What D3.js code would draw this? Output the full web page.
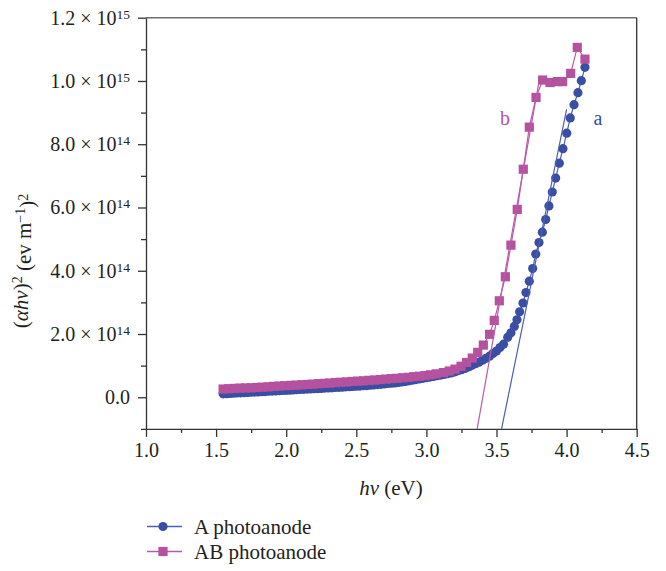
<!DOCTYPE html>
<html>
<head>
<meta charset="utf-8">
<script src="https://cdn.jsdelivr.net/npm/d3@7"></script>
<style>
body { margin: 0; background: #fff; }
svg text { font-family: "Liberation Serif", "DejaVu Serif", serif; fill: #231f20; }
</style>
</head>
<body>
<div id="chartDiv"></div>
<script>
// A photoanode: hv (eV) and (ahv)^2 in units of 1e14
const eA = [1.550,1.575,1.600,1.625,1.650,1.675,1.700,1.725,1.750,1.775,1.800,1.825,1.850,1.875,1.900,1.925,1.950,1.975,
    2.000,2.025,2.050,2.075,2.100,2.125,2.150,2.175,2.200,2.225,2.250,2.275,2.300,2.325,2.350,2.375,2.400,2.425,2.450,2.475,
    2.500,2.525,2.550,2.575,2.600,2.625,2.650,2.675,2.700,2.725,2.750,2.775,2.800,2.825,2.850,2.875,2.900,2.925,2.950,2.975,
    3.000,3.025,3.050,3.075,3.100,3.125,3.150,3.175,3.200,3.225,3.250,3.275,3.300,3.325,3.350,3.375,3.400,3.425,3.450,3.475,
    3.500,3.525,3.550,3.580,3.603,3.627,3.646,3.665,3.689,3.710,3.734,3.758,3.780,3.803,3.827,3.851,3.874,3.898,3.922,3.948,
    3.974,4.001,4.026,4.053,4.081,4.105,4.131];
const vA = [0.110,0.115,0.120,0.130,0.135,0.140,0.145,0.150,0.160,0.165,0.170,0.175,0.180,0.190,0.195,0.200,0.210,0.215,
    0.220,0.225,0.230,0.240,0.245,0.250,0.260,0.265,0.270,0.275,0.280,0.290,0.295,0.300,0.310,0.315,0.320,0.330,0.335,0.340,
    0.350,0.355,0.365,0.370,0.380,0.390,0.400,0.410,0.420,0.435,0.445,0.455,0.470,0.485,0.500,0.520,0.540,0.560,0.580,0.600,
    0.620,0.640,0.660,0.680,0.700,0.720,0.745,0.770,0.800,0.840,0.870,0.910,0.960,1.010,1.060,1.110,1.170,1.230,1.300,1.380,
    1.460,1.570,1.680,1.900,2.040,2.240,2.450,2.700,2.980,3.310,3.670,4.070,4.530,4.890,5.220,5.620,6.050,6.490,6.930,7.400,
    7.860,8.350,8.830,9.250,9.630,10.010,10.430];

// AB photoanode
const eB = [1.55,1.59,1.63,1.67,1.71,1.75,1.79,1.83,1.87,1.91,1.95,1.99,2.03,2.07,2.11,2.15,2.19,2.23,2.27,2.31,2.35,2.39,
    2.43,2.47,2.51,2.55,2.59,2.63,2.67,2.71,2.75,2.79,2.83,2.87,2.91,2.95,2.99,3.03,3.07,
    3.121,3.163,3.204,3.247,3.287,3.327,3.366,3.406,3.451,3.484,3.520,3.563,3.603,3.648,3.691,3.734,3.782,3.829,3.882,3.934,
    3.972,4.029,4.076,4.131];
const vB = [0.260,0.270,0.280,0.290,0.295,0.300,0.310,0.320,0.330,0.345,0.355,0.365,0.375,0.385,0.395,0.405,0.415,0.430,
    0.440,0.450,0.465,0.475,0.485,0.500,0.510,0.520,0.535,0.545,0.560,0.575,0.590,0.600,0.615,0.630,0.650,0.665,0.685,0.710,0.740,
    0.78,0.83,0.89,0.98,1.10,1.24,1.42,1.65,1.99,2.43,3.05,3.81,4.81,5.94,7.21,8.54,9.48,10.03,9.95,9.98,
    9.98,10.24,11.06,10.69];

// linear fits (end points)
const fitAx = [3.536, 4.000], fitAy = [-1.0, 9.1];
const fitBx = [3.362, 3.800], fitBy = [-1.0, 9.9];

const xMajor = [1.0, 1.5, 2.0, 2.5, 3.0, 3.5, 4.0, 4.5];
const xMinor = [1.25, 1.75, 2.25, 2.75, 3.25, 3.75, 4.25];
const yMajor = [0, 2, 4, 6, 8, 10, 12];
const yMinor = [-1, 1, 3, 5, 7, 9, 11];
const yLabels = ['0.0', '2.0', '4.0', '6.0', '8.0', '1.0', '1.2'];
const yExp = ['', '14', '14', '14', '14', '15', '15'];

const blue = '#3a4ea4', pink = '#b4529f';
const blueLine = '#4a5fb6', pinkLine = '#bd5aa8';

let svgObj = d3.select('#chartDiv').append('svg').attr('width', 666).attr('height', 571);

const x = d3.scaleLinear().domain([1.0, 4.5]).range([146, 636.7]);
const y = d3.scaleLinear().domain([-1, 12]).range([428.9, 17.7]);

// frame top + right
svgObj.append('line').attr('x1', x(1.0)).attr('x2', x(4.5)).attr('y1', y(12)).attr('y2', y(12))
    .attr('stroke', '#6d6e70').attr('stroke-width', 1.4);
svgObj.append('line').attr('x1', x(4.5)).attr('x2', x(4.5)).attr('y1', y(12)).attr('y2', y(-1))
    .attr('stroke', '#333').attr('stroke-width', 1.3);

// axes
let gx = svgObj.append('g').attr('transform', `translate(0,${y(-1)})`)
    .call(d3.axisBottom(x).tickValues(xMajor).tickSize(8).tickSizeOuter(0).tickPadding(6).tickFormat(d3.format('.1f')));
svgObj.append('g').attr('transform', `translate(0,${y(-1)})`)
    .call(d3.axisBottom(x).tickValues(xMinor).tickSize(4).tickFormat(''))
    .select('.domain').remove();

let gy = svgObj.append('g').attr('transform', `translate(${x(1.0)},0)`)
    .call(d3.axisLeft(y).tickValues(yMajor).tickSize(8).tickSizeOuter(0).tickPadding(8).tickFormat(''));
svgObj.append('g').attr('transform', `translate(${x(1.0)},0)`)
    .call(d3.axisLeft(y).tickValues(yMinor).tickSize(5).tickFormat(''))
    .select('.domain').remove();

svgObj.selectAll('.domain, .tick line').attr('stroke', '#333').attr('stroke-width', 1.3);
gx.selectAll('text').style('font-size', '20px').attr('fill', '#231f20');

// y tick labels with exponents
gy.selectAll('.tick text').each(function(d, i) {
    let t = d3.select(this).style('font-size', '20px').attr('fill', '#231f20');
    t.text(null);
    if (yExp[i] === '') {
        t.append('tspan').text(yLabels[i]);
    } else {
        t.append('tspan').text(yLabels[i] + ' \u00d7 10');
        t.append('tspan').attr('dy', '-0.45em').style('font-size', '13.5px').text(yExp[i]);
    }
});

// axis titles
let xt = svgObj.append('text').attr('x', 391).attr('y', 495).attr('text-anchor', 'middle').style('font-size', '21px');
xt.append('tspan').style('font-style', 'italic').text('h\u03bd');
xt.append('tspan').text(' (eV)');

let yt = svgObj.append('text').attr('transform', 'translate(28,261) rotate(-90)')
    .attr('text-anchor', 'middle').style('font-size', '21px');
yt.append('tspan').text('(');
yt.append('tspan').style('font-style', 'italic').text('\u03b1h\u03bd');
yt.append('tspan').text(')');
yt.append('tspan').attr('dy', '-0.45em').style('font-size', '14px').text('2');
yt.append('tspan').attr('dy', '0.45em').text(' (ev m');
yt.append('tspan').attr('dy', '-0.45em').style('font-size', '14px').text('\u22121');
yt.append('tspan').attr('dy', '0.45em').text(')');
yt.append('tspan').attr('dy', '-0.45em').style('font-size', '14px').text('2');

// series
const dataA = eA.map((e, i) => [e, vA[i]]);
const dataB = eB.map((e, i) => [e, vB[i]]);
const line = d3.line().x(d => x(d[0])).y(d => y(d[1]));

svgObj.append('path').datum(dataA).attr('d', line).attr('fill', 'none').attr('stroke', blueLine).attr('stroke-width', 1.2);
svgObj.selectAll('.ptA').data(dataA).enter().append('circle')
    .attr('class', 'ptA').attr('cx', d => x(d[0])).attr('cy', d => y(d[1])).attr('r', 4.6).attr('fill', blue);

svgObj.append('path').datum(dataB).attr('d', line).attr('fill', 'none').attr('stroke', pinkLine).attr('stroke-width', 1.2);
svgObj.selectAll('.ptB').data(dataB).enter().append('rect')
    .attr('class', 'ptB').attr('x', d => x(d[0]) - 4.6).attr('y', d => y(d[1]) - 4.6)
    .attr('width', 9.2).attr('height', 9.2).attr('fill', pink);

// fit lines
svgObj.append('path').datum(fitAx.map((e, i) => [e, fitAy[i]])).attr('d', line)
    .attr('stroke', blueLine).attr('stroke-width', 1.2).attr('fill', 'none');
svgObj.append('path').datum(fitBx.map((e, i) => [e, fitBy[i]])).attr('d', line)
    .attr('stroke', pinkLine).attr('stroke-width', 1.2).attr('fill', 'none');

svgObj.append('text').attr('x', x(3.56)).attr('y', y(8.6)).attr('text-anchor', 'middle')
    .style('font-size', '20px').style('fill', pink).text('b');
svgObj.append('text').attr('x', x(4.224)).attr('y', y(8.6)).attr('text-anchor', 'middle')
    .style('font-size', '20px').style('fill', blue).text('a');

// legend
const legend = [{name: 'A photoanode', color: blue, lc: blueLine, shape: 'circle'},
                {name: 'AB photoanode', color: pink, lc: pinkLine, shape: 'square'}];
legend.forEach((l, i) => {
    let ly = 526.5 + i * 25;
    svgObj.append('line').attr('x1', 147).attr('x2', 182).attr('y1', ly).attr('y2', ly)
        .attr('stroke', l.lc).attr('stroke-width', 1.3);
    if (l.shape === 'circle') {
        svgObj.append('circle').attr('cx', 163).attr('cy', ly).attr('r', 4.6).attr('fill', l.color);
    } else {
        svgObj.append('rect').attr('x', 158.4).attr('y', ly - 4.6).attr('width', 9.2).attr('height', 9.2).attr('fill', l.color);
    }
    svgObj.append('text').attr('x', 194).attr('y', ly + 7).style('font-size', '21px').text(l.name);
});
</script>
</body>
</html>
